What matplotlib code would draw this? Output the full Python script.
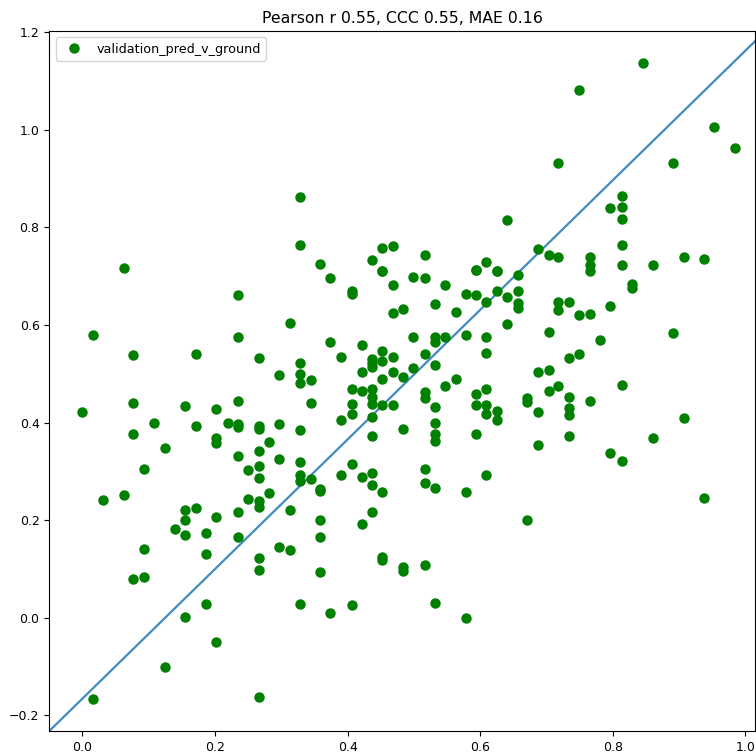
"""validation pred vs ground scatter, Pearson / CCC / MAE title."""
import matplotlib
matplotlib.use("Agg")
import matplotlib.pyplot as plt

ground = [
    0.062, 0.328, 0.641, 0.328, 0.359, 0.437, 0.452, 0.468, 0.516, 0.609,
    0.594, 0.625, 0.452, 0.845, 0.749, 0.953, 0.984, 0.718, 0.891, 0.814,
    0.796, 0.814, 0.814, 0.814, 0.687, 0.703, 0.718, 0.765, 0.765, 0.765,
    0.814, 0.860, 0.907, 0.938, 0.657, 0.829, 0.829, 0.657, 0.657, 0.657,
    0.718, 0.718, 0.734, 0.749, 0.765, 0.796, 0.703, 0.891, 0.781, 0.734,
    0.749, 0.687, 0.703, 0.718, 0.703, 0.814, 0.671, 0.671, 0.734, 0.765,
    0.687, 0.734, 0.734, 0.907, 0.734, 0.860, 0.687, 0.796, 0.814, 0.938,
    0.671, 0.235, 0.016, 0.235, 0.077, 0.171, 0.266, 0.297, 0.313, 0.000,
    0.077, 0.155, 0.202, 0.235, 0.108, 0.171, 0.219, 0.235, 0.235, 0.266,
    0.266, 0.297, 0.077, 0.202, 0.202, 0.281, 0.124, 0.235, 0.266, 0.297,
    0.266, 0.250, 0.093, 0.266, 0.281, 0.031, 0.062, 0.250, 0.266, 0.266,
    0.155, 0.171, 0.155, 0.202, 0.235, 0.140, 0.155, 0.187, 0.235, 0.297,
    0.093, 0.187, 0.266, 0.266, 0.077, 0.093, 0.187, 0.155, 0.202, 0.124,
    0.016, 0.266, 0.313, 0.359, 0.359, 0.421, 0.437, 0.313, 0.359, 0.452,
    0.452, 0.484, 0.484, 0.516, 0.328, 0.374, 0.406, 0.532, 0.578, 0.452,
    0.594, 0.625, 0.374, 0.468, 0.499, 0.516, 0.547, 0.406, 0.406, 0.578,
    0.594, 0.625, 0.609, 0.640, 0.532, 0.468, 0.484, 0.563, 0.640, 0.374,
    0.421, 0.499, 0.532, 0.532, 0.547, 0.578, 0.609, 0.609, 0.390, 0.452,
    0.437, 0.437, 0.437, 0.452, 0.468, 0.516, 0.532, 0.328, 0.328, 0.328,
    0.344, 0.421, 0.468, 0.452, 0.484, 0.499, 0.563, 0.547, 0.406, 0.421,
    0.437, 0.437, 0.437, 0.344, 0.406, 0.406, 0.452, 0.468, 0.516, 0.516,
    0.532, 0.594, 0.609, 0.594, 0.609, 0.609, 0.625, 0.625, 0.328, 0.390,
    0.437, 0.484, 0.532, 0.532, 0.532, 0.437, 0.594, 0.328, 0.406, 0.328,
    0.328, 0.344, 0.390, 0.421, 0.437, 0.437, 0.359, 0.359, 0.452, 0.516,
    0.516, 0.532, 0.578, 0.609,
]
pred = [
    0.717, 0.862, 0.815, 0.764, 0.725, 0.733, 0.757, 0.762, 0.743, 0.728,
    0.712, 0.710, 0.710, 1.137, 1.081, 1.005, 0.963, 0.931, 0.931, 0.865,
    0.839, 0.841, 0.817, 0.764, 0.755, 0.743, 0.739, 0.739, 0.722, 0.710,
    0.722, 0.723, 0.739, 0.736, 0.702, 0.683, 0.675, 0.669, 0.645, 0.635,
    0.646, 0.630, 0.646, 0.620, 0.622, 0.638, 0.585, 0.583, 0.569, 0.532,
    0.540, 0.504, 0.508, 0.474, 0.464, 0.477, 0.451, 0.443, 0.453, 0.445,
    0.422, 0.430, 0.416, 0.409, 0.372, 0.369, 0.353, 0.337, 0.321, 0.245,
    0.200, 0.662, 0.580, 0.575, 0.538, 0.540, 0.532, 0.498, 0.604, 0.422,
    0.440, 0.434, 0.427, 0.445, 0.400, 0.393, 0.400, 0.398, 0.391, 0.393,
    0.387, 0.396, 0.376, 0.369, 0.359, 0.361, 0.348, 0.332, 0.342, 0.325,
    0.311, 0.303, 0.305, 0.287, 0.256, 0.241, 0.251, 0.243, 0.239, 0.226,
    0.221, 0.224, 0.200, 0.207, 0.216, 0.181, 0.170, 0.173, 0.165, 0.144,
    0.141, 0.131, 0.123, 0.097, 0.079, 0.083, 0.028, 0.002, -0.050, -0.101,
    -0.167, -0.162, 0.221, 0.200, 0.165, 0.192, 0.216, 0.139, 0.094, 0.124,
    0.118, 0.105, 0.096, 0.108, 0.028, 0.010, 0.026, 0.031, -0.001, 0.710,
    0.712, 0.710, 0.696, 0.682, 0.699, 0.696, 0.682, 0.669, 0.663, 0.664,
    0.662, 0.669, 0.647, 0.657, 0.643, 0.624, 0.633, 0.627, 0.601, 0.566,
    0.559, 0.575, 0.575, 0.566, 0.575, 0.580, 0.575, 0.543, 0.535, 0.546,
    0.531, 0.522, 0.513, 0.527, 0.535, 0.540, 0.518, 0.522, 0.500, 0.480,
    0.488, 0.504, 0.504, 0.490, 0.493, 0.512, 0.490, 0.474, 0.469, 0.464,
    0.469, 0.452, 0.437, 0.440, 0.437, 0.418, 0.435, 0.435, 0.462, 0.450,
    0.432, 0.458, 0.469, 0.435, 0.435, 0.418, 0.424, 0.406, 0.385, 0.406,
    0.411, 0.387, 0.400, 0.377, 0.363, 0.372, 0.376, 0.319, 0.316, 0.293,
    0.281, 0.284, 0.292, 0.289, 0.297, 0.271, 0.264, 0.259, 0.258, 0.305,
    0.277, 0.266, 0.258, 0.292,
]

XLIM = (-0.050, 1.015)
YLIM = (-0.232, 1.202)
# reference line ends (drawn corner to near-top-right)
line_x = [-0.050, 1.015]
line_y = [-0.232, 1.182]

fig = plt.figure(figsize=(7.56, 7.55), dpi=100)
ax = fig.add_axes([0.0652, 0.0318, 0.934, 0.927])
ax.plot(ground, pred, "o", color="green", ms=6.5, label="validation_pred_v_ground", zorder=3)
ax.plot(line_x, line_y, color="#1f77b4", lw=1.6, alpha=0.85, zorder=2)
ax.set_xlim(*XLIM); ax.set_ylim(*YLIM)
ax.set_xticks([0.0, 0.2, 0.4, 0.6, 0.8, 1.0])
ax.set_yticks([-0.2, 0.0, 0.2, 0.4, 0.6, 0.8, 1.0, 1.2])
ax.tick_params(labelsize=9)
ax.set_title("Pearson r 0.55, CCC 0.55, MAE 0.16", fontsize=11.3)
ax.legend(loc="upper left", fontsize=9.2)
fig.savefig("out.png", dpi=100)
